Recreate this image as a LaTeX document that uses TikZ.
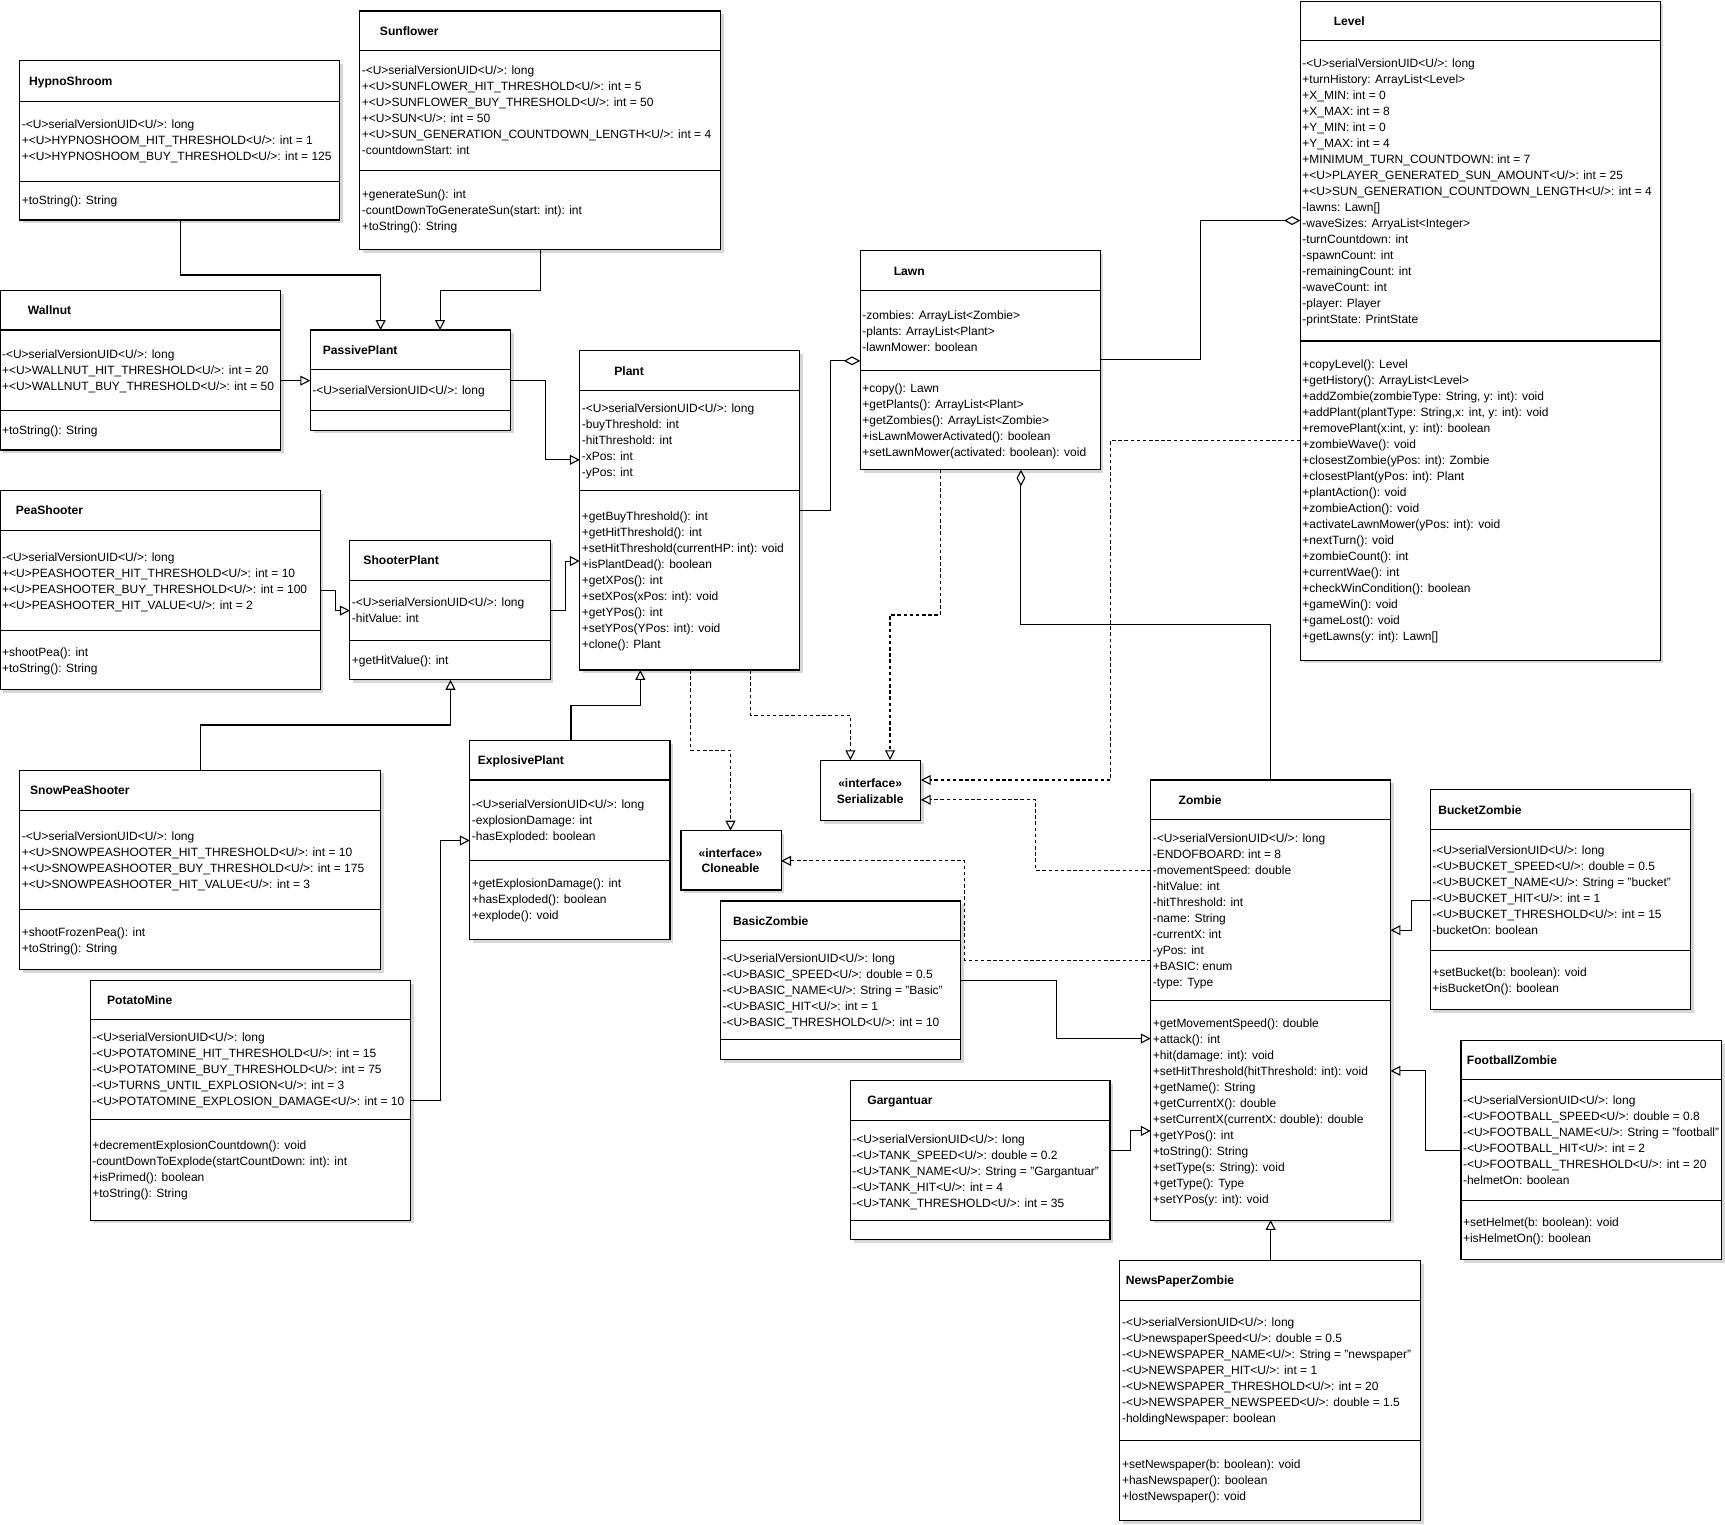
\documentclass[tikz,border=0pt]{standalone}
\usepackage{fontspec}
\setmainfont{Liberation Sans}
\usetikzlibrary{arrows.meta}
\tikzset{
  clsbox/.style={draw, fill=white, line width=0.5pt, inner sep=0pt, outer sep=0pt},
  sepline/.style={line width=0.5pt},
  shadowc/.style={fill=black!16},
  rowtxt/.style={anchor=base west, inner sep=0pt, font=\fontsize{5.45pt}{7pt}\selectfont},
  ttl/.style={anchor=base west, inner sep=0pt, font=\fontsize{5.5pt}{7pt}\selectfont\bfseries},
  ifc/.style={anchor=base, inner sep=0pt, font=\fontsize{5.5pt}{7pt}\selectfont\bfseries},
  conn/.style={line width=0.5pt},
  inh/.style={conn, -{Triangle[open, length=4.5pt, width=4.5pt]}},
  real/.style={inh, dash pattern=on 1.6pt off 1.2pt},
  agg/.style={conn, {Diamond[open, length=7.5pt, width=4pt]}-},
}
\newcommand\classbox[7]{%
  \fill[shadowc] ({#2+3},{#3+3}) rectangle ({#4+3},{#5+3});
  \node[clsbox, minimum width={(#4-#2)*0.5pt}, minimum height={(#5-#3)*0.5pt}] (#1) at ({(#2+#4)/2},{(#3+#5)/2}) {};
  \draw[sepline] (#2,#6) -- (#4,#6);
  \draw[sepline] (#2,#7) -- (#4,#7);
}
\newcommand\ifacebox[5]{%
  \fill[shadowc] ({#2+3},{#3+3}) rectangle ({#4+3},{#5+3});
  \node[clsbox, minimum width={(#4-#2)*0.5pt}, minimum height={(#5-#3)*0.5pt}] (#1) at ({(#2+#4)/2},{(#3+#5)/2}) {};
}
\newcommand\rowsat[4]{%
  \foreach \rowtext [count=\rowidx from 0] in {#4}{\node[rowtxt] (#1\rowidx) at (#2,{#3+\rowidx*14.55+4}) {\ignorespaces\rowtext};}%
}
\begin{document}
\begin{tikzpicture}[x=0.5pt,y=-0.5pt]
\path[use as bounding box, fill=white] (0,0) rectangle (1568,1386);

% HypnoShroom
\classbox{hypno}{18}{55}{309}{200}{92}{165}
\node[ttl] (hypnot) at (26,77.5) {HypnoShroom};
\rowsat{hypnoa}{19.5}{113}{-<U>serialVersionUID<U/>: long,
+<U>HYPNOSHOOM\_HIT\_THRESHOLD<U/>: int = 1,
+<U>HYPNOSHOOM\_BUY\_THRESHOLD<U/>: int = 125}
\rowsat{hypnom}{19.5}{182}{+toString(): String}

% Sunflower
\classbox{sun}{327}{10}{655}{227}{46}{155}
\node[ttl] (sunt) at (345,32) {Sunflower};
\rowsat{suna}{328.5}{64}{-<U>serialVersionUID<U/>: long,
+<U>SUNFLOWER\_HIT\_THRESHOLD<U/>: int = 5,
+<U>SUNFLOWER\_BUY\_THRESHOLD<U/>: int = 50,
+<U>SUN<U/>: int = 50,
+<U>SUN\_GENERATION\_COUNTDOWN\_LENGTH<U/>: int = 4,
-countdownStart: int}
\rowsat{sunm}{328.5}{176}{+generateSun(): int,
-countDownToGenerateSun(start: int): int,
+toString(): String}

% Wallnut
\classbox{wall}{0}{264}{255}{409}{300}{373}
\node[ttl] (wallt) at (25,286) {Wallnut};
\rowsat{walla}{1.5}{322}{-<U>serialVersionUID<U/>: long,
+<U>WALLNUT\_HIT\_THRESHOLD<U/>: int = 20,
+<U>WALLNUT\_BUY\_THRESHOLD<U/>: int = 50}
\rowsat{wallm}{1.5}{391}{+toString(): String}

% PassivePlant
\classbox{passive}{282}{300}{464}{391}{336}{373}
\node[ttl] (passivet) at (293,322) {PassivePlant};
\rowsat{passivea}{283.5}{355}{-<U>serialVersionUID<U/>: long}

% Plant
\classbox{plant}{527}{319}{727}{609}{355}{446}
\node[ttl] (plantt) at (558,341) {Plant};
\rowsat{planta}{528.5}{371}{-<U>serialVersionUID<U/>: long,
-buyThreshold: int,
-hitThreshold: int,
-xPos: int,
-yPos: int}
\rowsat{plantm}{528.5}{469}{+getBuyThreshold(): int,
+getHitThreshold(): int,
+setHitThreshold(currentHP: int): void,
+isPlantDead(): boolean,
+getXPos(): int,
+setXPos(xPos: int): void,
+getYPos(): int,
+setYPos(YPos: int): void,
+clone(): Plant}

% Lawn
\classbox{lawn}{782}{228}{1000}{427}{264}{337}
\node[ttl] (lawnt) at (812,250) {Lawn};
\rowsat{lawna}{783.5}{286}{-zombies: ArrayList<Zombie>,
-plants: ArrayList<Plant>,
-lawnMower: boolean}
\rowsat{lawnm}{783.5}{353}{+copy(): Lawn,
+getPlants(): ArrayList<Plant>,
+getZombies(): ArrayList<Zombie>,
+isLawnMowerActivated(): boolean,
+setLawnMower(activated: boolean): void}

% Level
\classbox{level}{1182}{1}{1509}{600}{37}{310}
\node[ttl] (levelt) at (1212,23) {Level};
\rowsat{levela}{1183.5}{57}{-<U>serialVersionUID<U/>: long,
+turnHistory: ArrayList<Level>,
+X\_MIN: int = 0,
+X\_MAX: int = 8,
+Y\_MIN: int = 0,
+Y\_MAX: int = 4,
+MINIMUM\_TURN\_COUNTDOWN: int = 7,
+<U>PLAYER\_GENERATED\_SUN\_AMOUNT<U/>: int = 25,
+<U>SUN\_GENERATION\_COUNTDOWN\_LENGTH<U/>: int = 4,
-lawns: Lawn[],
-waveSizes: ArryaList<Integer>,
-turnCountdown: int,
-spawnCount: int,
-remainingCount: int,
-waveCount: int,
-player: Player,
-printState: PrintState}
\rowsat{levelm}{1183.5}{331}{+copyLevel(): Level,
+getHistory(): ArrayList<Level>,
{+addZombie(zombieType: String, y: int): void},
{+addPlant(plantType: String,x: int, y: int): void},
{+removePlant(x:int, y: int): boolean},
+zombieWave(): void,
+closestZombie(yPos: int): Zombie,
+closestPlant(yPos: int): Plant,
+plantAction(): void,
+zombieAction(): void,
+activateLawnMower(yPos: int): void,
+nextTurn(): void,
+zombieCount(): int,
+currentWae(): int,
+checkWinCondition(): boolean,
+gameWin(): void,
+gameLost(): void,
+getLawns(y: int): Lawn[]}

% PeaShooter
\classbox{pea}{0}{446}{291}{627}{482}{573}
\node[ttl] (peat) at (14,468) {PeaShooter};
\rowsat{peaa}{1.5}{506}{-<U>serialVersionUID<U/>: long,
+<U>PEASHOOTER\_HIT\_THRESHOLD<U/>: int = 10,
+<U>PEASHOOTER\_BUY\_THRESHOLD<U/>: int = 100,
+<U>PEASHOOTER\_HIT\_VALUE<U/>: int = 2}
\rowsat{peam}{1.5}{593}{+shootPea(): int,
+toString(): String}

% ShooterPlant
\classbox{shooter}{318}{491}{500}{618}{528}{582}
\node[ttl] (shootert) at (330,513.5) {ShooterPlant};
\rowsat{shootera}{319.5}{547}{-<U>serialVersionUID<U/>: long,
-hitValue: int}
\rowsat{shooterm}{319.5}{600}{+getHitValue(): int}

% SnowPeaShooter
\classbox{snow}{18}{700}{346}{881}{737}{827}
\node[ttl] (snowt) at (27,722.5) {SnowPeaShooter};
\rowsat{snowa}{19.5}{760}{-<U>serialVersionUID<U/>: long,
+<U>SNOWPEASHOOTER\_HIT\_THRESHOLD<U/>: int = 10,
+<U>SNOWPEASHOOTER\_BUY\_THRESHOLD<U/>: int = 175,
+<U>SNOWPEASHOOTER\_HIT\_VALUE<U/>: int = 3}
\rowsat{snowm}{19.5}{847}{+shootFrozenPea(): int,
+toString(): String}

% ExplosivePlant
\classbox{expl}{427}{673}{609}{854}{709}{782}
\node[ttl] (explt) at (434,695) {ExplosivePlant};
\rowsat{expla}{428.5}{731}{-<U>serialVersionUID<U/>: long,
-explosionDamage: int,
-hasExploded: boolean}
\rowsat{explm}{428.5}{803}{+getExplosionDamage(): int,
+hasExploded(): boolean,
+explode(): void}

% PotatoMine
\classbox{potato}{82}{891}{373}{1109}{927}{1018}
\node[ttl] (potatot) at (97,913) {PotatoMine};
\rowsat{potatoa}{83.5}{943}{-<U>serialVersionUID<U/>: long,
-<U>POTATOMINE\_HIT\_THRESHOLD<U/>: int = 15,
-<U>POTATOMINE\_BUY\_THRESHOLD<U/>: int = 75,
-<U>TURNS\_UNTIL\_EXPLOSION<U/>: int = 3,
-<U>POTATOMINE\_EXPLOSION\_DAMAGE<U/>: int = 10}
\rowsat{potatom}{83.5}{1041}{+decrementExplosionCountdown(): void,
-countDownToExplode(startCountDown: int): int,
+isPrimed(): boolean,
+toString(): String}

% Interfaces
\ifacebox{ser}{746}{691}{837}{746}
\node[ifc] (sert1) at (791,716) {«interface»};
\node[ifc] (sert2) at (791,730) {Serializable};
\ifacebox{clone}{619}{755}{710}{809}
\node[ifc] (clonet1) at (664,779) {«interface»};
\node[ifc] (clonet2) at (664,793.5) {Cloneable};

% BasicZombie
\classbox{basic}{655}{819}{873}{963}{855}{945}
\node[ttl] (basict) at (666,841) {BasicZombie};
\rowsat{basica}{656.5}{871}{-<U>serialVersionUID<U/>: long,
-<U>BASIC\_SPEED<U/>: double = 0.5,
-<U>BASIC\_NAME<U/>: String = "Basic",
-<U>BASIC\_HIT<U/>: int = 1,
-<U>BASIC\_THRESHOLD<U/>: int = 10}

% Zombie
\classbox{zombie}{1046}{709}{1264}{1109}{745}{909.5}
\node[ttl] (zombiet) at (1071,731) {Zombie};
\rowsat{zombiea}{1047.5}{762}{-<U>serialVersionUID<U/>: long,
-ENDOFBOARD: int = 8,
-movementSpeed: double,
-hitValue: int,
-hitThreshold: int,
-name: String,
-currentX: int,
-yPos: int,
+BASIC: enum,
-type: Type}
\rowsat{zombiem}{1047.5}{929.7}{+getMovementSpeed(): double,
+attack(): int,
+hit(damage: int): void,
+setHitThreshold(hitThreshold: int): void,
+getName(): String,
+getCurrentX(): double,
+setCurrentX(currentX: double): double,
+getYPos(): int,
+toString(): String,
+setType(s: String): void,
+getType(): Type,
+setYPos(y: int): void}

% BucketZombie
\classbox{bucket}{1300}{718}{1537}{918}{754}{864}
\node[ttl] (buckett) at (1307,740) {BucketZombie};
\rowsat{bucketa}{1301.5}{773}{-<U>serialVersionUID<U/>: long,
-<U>BUCKET\_SPEED<U/>: double = 0.5,
-<U>BUCKET\_NAME<U/>: String = "bucket",
-<U>BUCKET\_HIT<U/>: int = 1,
-<U>BUCKET\_THRESHOLD<U/>: int = 15,
-bucketOn: boolean}
\rowsat{bucketm}{1301.5}{884}{+setBucket(b: boolean): void,
+isBucketOn(): boolean}

% FootballZombie
\classbox{foot}{1328}{946}{1565}{1145}{981}{1091}
\node[ttl] (foott) at (1333,967.5) {FootballZombie};
\rowsat{foota}{1329.5}{1000}{-<U>serialVersionUID<U/>: long,
-<U>FOOTBALL\_SPEED<U/>: double = 0.8,
-<U>FOOTBALL\_NAME<U/>: String = "football",
-<U>FOOTBALL\_HIT<U/>: int = 2,
-<U>FOOTBALL\_THRESHOLD<U/>: int = 20,
-helmetOn: boolean}
\rowsat{footm}{1329.5}{1111}{+setHelmet(b: boolean): void,
+isHelmetOn(): boolean}

% Gargantuar
\classbox{garg}{773}{982}{1009}{1127}{1018.5}{1109}
\node[ttl] (gargt) at (788,1004) {Gargantuar};
\rowsat{garga}{774.5}{1035}{-<U>serialVersionUID<U/>: long,
-<U>TANK\_SPEED<U/>: double = 0.2,
-<U>TANK\_NAME<U/>: String = "Gargantuar",
-<U>TANK\_HIT<U/>: int = 4,
-<U>TANK\_THRESHOLD<U/>: int = 35}

% NewsPaperZombie
\classbox{news}{1018}{1146}{1291}{1382}{1182}{1309}
\node[ttl] (newst) at (1023,1168) {NewsPaperZombie};
\rowsat{newsa}{1019.5}{1202}{-<U>serialVersionUID<U/>: long,
-<U>newspaperSpeed<U/>: double = 0.5,
-<U>NEWSPAPER\_NAME<U/>: String = "newspaper",
-<U>NEWSPAPER\_HIT<U/>: int = 1,
-<U>NEWSPAPER\_THRESHOLD<U/>: int = 20,
-<U>NEWSPAPER\_NEWSPEED<U/>: double = 1.5,
-holdingNewspaper: boolean}
\rowsat{newsm}{1019.5}{1331}{+setNewspaper(b: boolean): void,
+hasNewspaper(): boolean,
+lostNewspaper(): void}

% ---- connectors ----
\draw[inh] (hypno.south -| 164,0) -- (164,250) -- (346,250) -- (passive.north -| 346,0);
\draw[inh] (sun.south -| 491,0) -- (491,264) -- (400,264) -- (passive.north -| 400,0);
\draw[inh] (wall.east |- 0,346) -- (passive.west |- 0,346);
\draw[inh] (passive.east |- 0,346) -- (496,346) -- (496,418) -- (plant.west |- 0,418);
\draw[inh] (shooter.east |- 0,555) -- (514,555) -- (514,510) -- (plant.west |- 0,510);
\draw[inh] (pea.east |- 0,537) -- (305,537) -- (305,555) -- (shooter.west |- 0,555);
\draw[inh] (snow.north -| 182,0) -- (182,659) -- (409.5,659) -- (shooter.south -| 409.5,0);
\draw[inh] (expl.north -| 519,0) -- (519,641) -- (582,641) -- (plant.south -| 582,0);
\draw[inh] (potato.east |- 0,1000) -- (400.5,1000) -- (400.5,764) -- (expl.west |- 0,764);
\draw[agg] (lawn.west |- 0,328) -- (755,328) -- (755,464) -- (plant.east |- 0,464);
\draw[agg] (level.west |- 0,200.5) -- (1091.5,200.5) -- (1091.5,327) -- (lawn.east |- 0,327);
\draw[agg] (lawn.south -| 928,0) -- (928,568) -- (1155,568) -- (zombie.north -| 1155,0);
\draw[real] (plant.south -| 682,0) -- (682,650) -- (773,650) -- (ser.north -| 773,0);
\draw[real] (plant.south -| 628,0) -- (628,682) -- (664,682) -- (clone.north -| 664,0);
\draw[real] (lawn.south -| 855,0) -- (855,559) -- (809,559) -- (ser.north -| 809,0);
\draw[real] (level.west |- 0,400) -- (1009.7,400) -- (1009.7,709) -- (ser.east |- 0,709);
\draw[real] (zombie.west |- 0,791) -- (941.5,791) -- (941.5,727) -- (ser.east |- 0,727);
\draw[real] (zombie.west |- 0,873) -- (877,873) -- (877,782.5) -- (clone.east |- 0,782.5);
\draw[inh] (basic.east |- 0,891.5) -- (960,891.5) -- (960,944) -- (zombie.west |- 0,944);
\draw[inh] (garg.east |- 0,1046) -- (1028,1046) -- (1028,1028) -- (zombie.west |- 0,1028);
\draw[inh] (bucket.west |- 0,818.5) -- (1283,818.5) -- (1283,845.5) -- (zombie.east |- 0,845.5);
\draw[inh] (foot.west |- 0,1045.5) -- (1295.5,1045.5) -- (1295.5,973.4) -- (zombie.east |- 0,973.4);
\draw[inh] (news.north -| 1155,0) -- (zombie.south -| 1155,0);
\end{tikzpicture}
\end{document}
